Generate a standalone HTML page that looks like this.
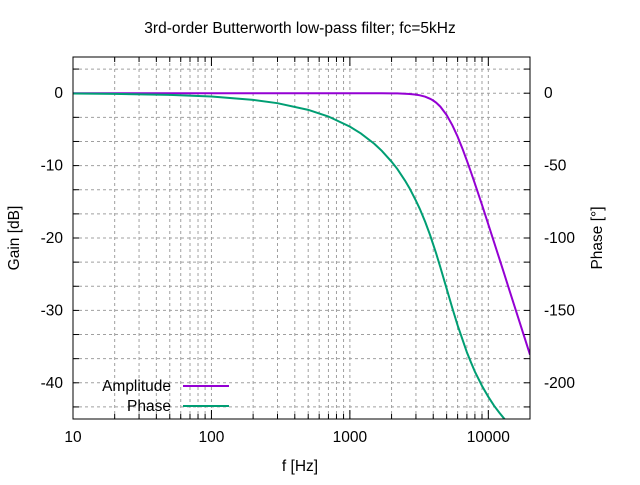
<!DOCTYPE html>
<html><head><meta charset="utf-8"><style>
body{margin:0;background:#fff}
svg text{font-family:"Liberation Sans",sans-serif;font-size:15.5px;fill:#000}
</style></head><body>
<svg id="c" width="640" height="480"></svg>
<script>
const freqs=[10,20,50,100,200,300,500,700,1000,1200,1500,1700,2000,2200,2500,2700,3000,3200,3500,3800,4000,4200,4500,5000,5500,6000,6500,7000,7500,8000,9000,10000,11000,12000,13000,14000,17000,20000];
const amplitude=[0,0,0,0,0,0,0,0,0,0,0,0,-0.02,-0.03,-0.07,-0.11,-0.2,-0.29,-0.48,-0.77,-1.01,-1.31,-1.85,-3.01,-4.43,-6.0,-7.65,-9.31,-10.93,-12.5,-15.41,-18.13,-20.58,-22.83,-24.9,-26.84,-31.89,-36.12];
const phase=[-0.23,-0.46,-1.15,-2.3,-4.6,-6.9,-11.5,-16.1,-23.1,-27.8,-34.9,-39.8,-47.3,-52.3,-60.3,-65.7,-74.2,-79.9,-88.9,-98.1,-104.5,-110.7,-120.1,-135,-148.5,-160.3,-170,-178.9,-186,-192.3,-202.1,-209.7,-215.8,-220.6,-224.7,-228,-236,-242];
const yTicks=[0,-10,-20,-30,-40];
const y2Ticks=[0,-50,-100,-150,-200];
const xTicks=[10,100,1000,10000];
const X0=73,X1=530,Y0=57,Y1=419;
const xs=f=>X0+(Math.log10(f)-1)/Math.log10(2000)*(X1-X0);
const ys=d=>Y0+(5-d)/50*(Y1-Y0);
const ys2=p=>Y0+(25-p)/250*(Y1-Y0);
const svg=document.getElementById('c');const NS='http://www.w3.org/2000/svg';
function mk(t,a,p){const e=document.createElementNS(NS,t);for(const k in a)e.setAttribute(k,a[k]);(p||svg).appendChild(e);return e;}
const grid=mk('g',{});


for(let d=1;d<=10000;d*=10)for(let m=1;m<10;m++){const f=d*m;if(f<=10||f>=20000)continue;const x=xs(f);
mk('line',{x1:x,x2:x,y1:Y0,y2:Y1,stroke:'#a0a0a0','stroke-dasharray':'3,3'},grid);
mk('line',{x1:x,x2:x,y1:Y1,y2:Y1-(m==1?9:5),stroke:'#000'},grid);mk('line',{x1:x,x2:x,y1:Y0,y2:Y0+(m==1?9:5),stroke:'#000'},grid);}
for(let i=-1;i<=13;i++){const d=-i*10/3;const y=ys(d);if(y<=Y0||y>=Y1)continue;
mk('line',{x1:X0,x2:X1,y1:y,y2:y,stroke:'#a0a0a0','stroke-dasharray':'3,3'},grid);
mk('line',{x1:X0,x2:X0+6,y1:y,y2:y,stroke:'#000'},grid);mk('line',{x1:X1,x2:X1-6,y1:y,y2:y,stroke:'#000'},grid);}
yTicks.forEach(v=>{const t=mk('text',{x:X0-10,y:ys(v)+5,'text-anchor':'end'});t.textContent=v;
});
y2Ticks.forEach(v=>{const t=mk('text',{x:X1+14,y:ys2(v)+5,'text-anchor':'start'});t.textContent=v;
});
xTicks.forEach(v=>{const t=mk('text',{x:xs(v),y:Y1+23,'text-anchor':'middle'});t.textContent=v;
});
const clip=mk('clipPath',{id:'cp'});mk('rect',{x:X0,y:Y0,width:X1-X0,height:Y1-Y0},clip);
const pa=mk('polyline',{points:freqs.map((f,i)=>xs(f)+','+ys(amplitude[i])).join(' '),fill:'none',stroke:'#9400d3','stroke-width':2,'clip-path':'url(#cp)'});

const pp=mk('polyline',{points:freqs.map((f,i)=>xs(f)+','+ys2(phase[i])).join(' '),fill:'none',stroke:'#009e73','stroke-width':2,'clip-path':'url(#cp)'});

const bd=mk('rect',{x:X0,y:Y0,width:X1-X0,height:Y1-Y0,fill:'none',stroke:'#000'});

</script>
<svg width="640" height="480" style="position:absolute;left:0;top:0">
<text x="300" y="33" text-anchor="middle">3rd-order Butterworth low-pass filter; fc=5kHz</text>
<text x="300" y="471" text-anchor="middle">f [Hz]</text>
<text transform="translate(19,238) rotate(-90)" text-anchor="middle">Gain [dB]</text>
<text transform="translate(602,238) rotate(-90)" text-anchor="middle">Phase [°]</text>
<g>
<text x="171" y="391" text-anchor="end">Amplitude</text>
<line x1="183" x2="229" y1="386" y2="386" stroke="#9400d3" stroke-width="2"/>
<text x="171" y="411" text-anchor="end">Phase</text>
<line x1="183" x2="229" y1="406" y2="406" stroke="#009e73" stroke-width="2"/>
</g>
</svg>
</body></html>
